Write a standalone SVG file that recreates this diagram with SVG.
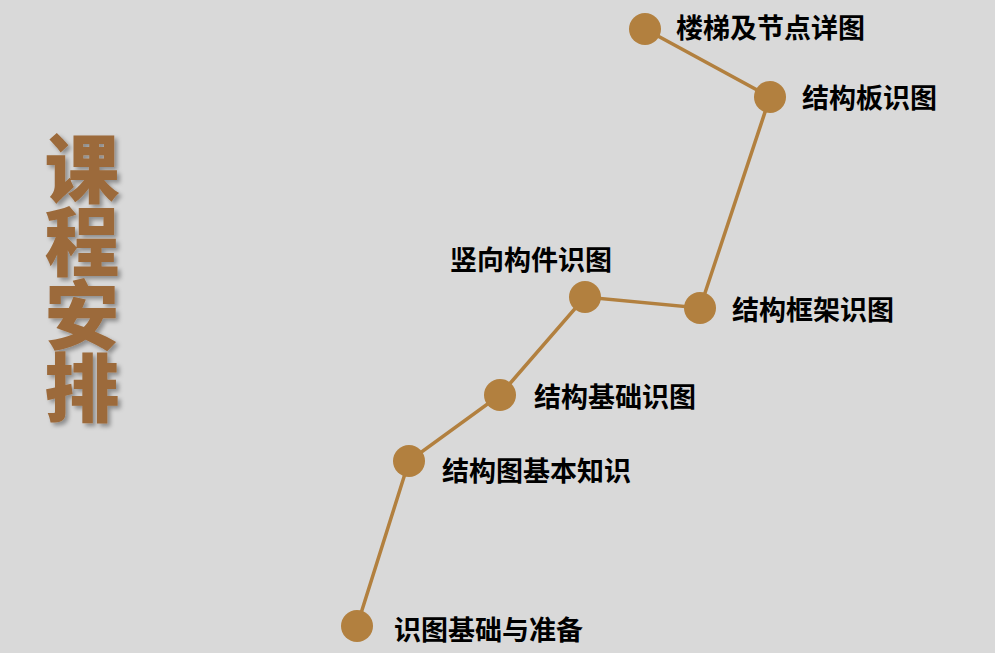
<svg xmlns="http://www.w3.org/2000/svg" width="995" height="653" viewBox="0 0 995 653">
<defs>
<style>
.lbl{font-family:"Noto Sans CJK SC","Noto Sans",sans-serif;font-weight:bold;font-size:27px;fill:#000;dominant-baseline:central}
.dot{fill:#b2803f}
.ttl{font-family:"Noto Sans CJK SC","Noto Sans",sans-serif;font-weight:900;font-size:75px;fill:#9c6a3b;writing-mode:vertical-rl;letter-spacing:-2px}
</style>
<filter id="sh" x="-20%" y="-20%" width="140%" height="140%">
<feGaussianBlur in="SourceAlpha" stdDeviation="2"/>
<feOffset dx="3" dy="3" result="b"/>
<feFlood flood-color="#000" flood-opacity="0.35"/>
<feComposite in2="b" operator="in"/>
<feMerge><feMergeNode/><feMergeNode in="SourceGraphic"/></feMerge>
</filter>
</defs>
<rect width="995" height="653" fill="#d9d9d9"/>
<g id="title" filter="url(#sh)">
<text class="ttl" x="82" y="131">课程安排</text>
</g>
<g id="connectors" stroke="#b2803f" stroke-width="3.5" fill="none">
<polyline points="357,626 409,461 500,395 585,297 700,308 770,97 645,29"/>
</g>
<g id="n1"><circle class="dot" cx="357" cy="626" r="16"/><text class="lbl" x="394" y="628">识图基础与准备</text></g>
<g id="n2"><circle class="dot" cx="409" cy="461" r="16"/><text class="lbl" x="442" y="469">结构图基本知识</text></g>
<g id="n3"><circle class="dot" cx="500" cy="395" r="16"/><text class="lbl" x="534" y="395">结构基础识图</text></g>
<g id="n4"><circle class="dot" cx="585" cy="297" r="16"/><text class="lbl" x="450" y="258">竖向构件识图</text></g>
<g id="n5"><circle class="dot" cx="700" cy="308" r="16"/><text class="lbl" x="732" y="308">结构框架识图</text></g>
<g id="n6"><circle class="dot" cx="770" cy="97" r="16"/><text class="lbl" x="802" y="96">结构板识图</text></g>
<g id="n7"><circle class="dot" cx="645" cy="29" r="16"/><text class="lbl" x="676" y="26">楼梯及节点详图</text></g>
</svg>
